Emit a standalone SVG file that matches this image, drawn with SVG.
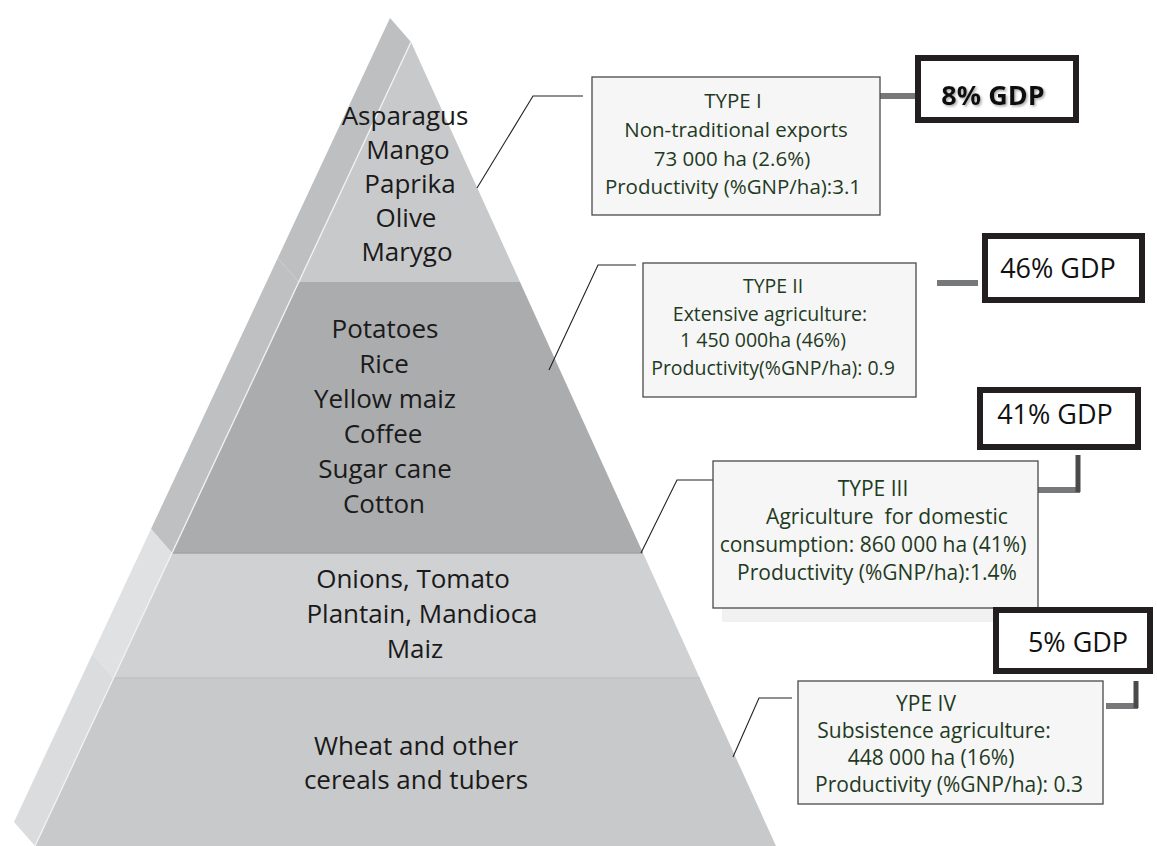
<svg xmlns="http://www.w3.org/2000/svg" width="1157" height="846" viewBox="0 0 1157 846">
<defs>
<style>
.pt{font-family:"Open Sans","Liberation Sans",sans-serif;font-size:26px;fill:#1a1a1a;text-anchor:middle}
.bt{font-family:"Open Sans","Liberation Sans",sans-serif;font-size:19.5px;fill:#1f3b1f;text-anchor:middle}
.b1{font-size:20.5px}
.b3{font-size:21px}
.gt{font-family:"Open Sans","Liberation Sans",sans-serif;font-size:27px;fill:#111;text-anchor:middle}
.box{fill:#f6f6f6;stroke:#4a4a4a;stroke-width:1.3}
.gdp{fill:#fff;stroke:#231f20;stroke-width:6}
.thin{fill:none;stroke:#222;stroke-width:1.1}
.bar{fill:none;stroke:#77787a;stroke-width:6}
.vbar{fill:none;stroke:#4a4a4c;stroke-width:5}
</style>
<filter id="sh" x="-10%" y="-10%" width="120%" height="130%">
<feDropShadow dx="1.5" dy="1.5" stdDeviation="0.8" flood-color="#888" flood-opacity="0.7"/>
</filter>
</defs>
<rect width="1157" height="846" fill="#fff"/>
<g id="pyramid">
<polygon points="390,18 411,42 298.8,282 277.8,258" fill="#bebfc1"/>
<polygon points="277.8,258 298.8,282 172,553 151,529" fill="#bfc0c2"/>
<polygon points="151,529 172,553 113.5,678 92.5,654" fill="#e0e1e3"/>
<polygon points="92.5,654 113.5,678 35,846 14,822" fill="#dbdcde"/>
<polygon points="411,42 520,282 298.8,282" fill="#c8c9cb"/>
<polygon points="298.8,282 520,282 643,553 172,553" fill="#abacae"/>
<polygon points="172,553 643,553 699.7,678 113.5,678" fill="#d0d1d3"/>
<polygon points="113.5,678 699.7,678 776,846 35,846" fill="#c8c9cb"/>
<line x1="172" y1="553" x2="643" y2="553" stroke="#a3a4a6" stroke-width="1.5"/>
<line x1="113.5" y1="678" x2="699.7" y2="678" stroke="#bfc0c2" stroke-width="1.5"/>
<line x1="411" y1="42" x2="35" y2="846" stroke="#f2f2f2" stroke-width="1.3"/>
</g>
<g id="layer1-text">
<text class="pt" x="405" y="125">Asparagus</text>
<text class="pt" x="408" y="159">Mango</text>
<text class="pt" x="410" y="193">Paprika</text>
<text class="pt" x="406" y="227">Olive</text>
<text class="pt" x="407" y="261">Marygo</text>
</g>
<g id="layer2-text">
<text class="pt" x="385" y="338">Potatoes</text>
<text class="pt" x="384" y="373">Rice</text>
<text class="pt" x="385" y="408">Yellow maiz</text>
<text class="pt" x="383" y="443">Coffee</text>
<text class="pt" x="385" y="478">Sugar cane</text>
<text class="pt" x="384" y="513">Cotton</text>
</g>
<g id="layer3-text">
<text class="pt" x="413" y="588">Onions, Tomato</text>
<text class="pt" x="422" y="623">Plantain, Mandioca</text>
<text class="pt" x="415" y="658">Maiz</text>
</g>
<g id="layer4-text">
<text class="pt" x="416" y="755">Wheat and other</text>
<text class="pt" x="416" y="789">cereals and tubers</text>
</g>
<g id="connectors">
<polyline class="thin" points="583,96 533,96 477,188"/>
<polyline class="thin" points="636,265 598,265 549,370"/>
<polyline class="thin" points="713,480 677,480 641,553"/>
<polyline class="thin" points="792,698 759,698 733,757"/>
<line class="bar" x1="880" y1="96" x2="917" y2="96"/>
<line class="bar" x1="937" y1="283" x2="978" y2="283"/>
<polyline class="bar" points="1038,490 1080,490"/>
<line class="vbar" x1="1078" y1="455" x2="1078" y2="492"/>
<polyline class="bar" points="1106,706 1138,706"/>
<line class="vbar" x1="1136" y1="681" x2="1136" y2="708"/>
</g>
<g id="type1">
<rect class="box" x="592" y="77" width="288" height="138"/>
<text class="bt b1" x="733" y="108">TYPE I</text>
<text class="bt b1" x="736" y="137">Non-traditional exports</text>
<text class="bt b1" x="732" y="166">73 000 ha (2.6%)</text>
<text class="bt b1" x="733" y="194">Productivity (%GNP/ha):3.1</text>
</g>
<g id="type2">
<rect class="box" x="643" y="263" width="273" height="134"/>
<text class="bt" x="773" y="293">TYPE II</text>
<text class="bt" x="770" y="321">Extensive agriculture:</text>
<text class="bt" x="763" y="347">1 450 000ha (46%)</text>
<text class="bt" x="773" y="375">Productivity(%GNP/ha): 0.9</text>
</g>
<g id="type3">
<rect x="722" y="608" width="306" height="14" fill="#f1f1f1"/>
<rect class="box" x="713" y="461" width="325" height="147"/>
<text class="bt b3" x="873" y="496">TYPE III</text>
<text class="bt b3" x="887" y="524" xml:space="preserve">Agriculture  for domestic</text>
<text class="bt b3" x="873" y="552">consumption: 860 000 ha (41%)</text>
<text class="bt b3" x="877" y="580">Productivity (%GNP/ha):1.4%</text>
</g>
<g id="type4">
<rect class="box" x="798" y="681" width="305" height="123"/>
<text class="bt b3" x="926" y="711">YPE IV</text>
<text class="bt b3" x="934" y="738">Subsistence agriculture:</text>
<text class="bt b3" x="931" y="765">448 000 ha (16%)</text>
<text class="bt b3" x="949" y="792">Productivity (%GNP/ha): 0.3</text>
</g>
<g id="gdp8">
<rect class="gdp" x="918" y="58" width="158" height="62"/>
<text class="gt" x="993" y="105" font-weight="bold" font-size="26" filter="url(#sh)">8% GDP</text>
</g>
<g id="gdp46">
<rect class="gdp" x="985" y="236" width="157" height="64"/>
<text class="gt" x="1058" y="278">46% GDP</text>
</g>
<g id="gdp41">
<rect class="gdp" x="980" y="390" width="158" height="57"/>
<text class="gt" x="1055" y="424">41% GDP</text>
</g>
<g id="gdp5">
<rect class="gdp" x="996" y="610" width="154" height="61"/>
<text class="gt" x="1078" y="652">5% GDP</text>
</g>
</svg>
